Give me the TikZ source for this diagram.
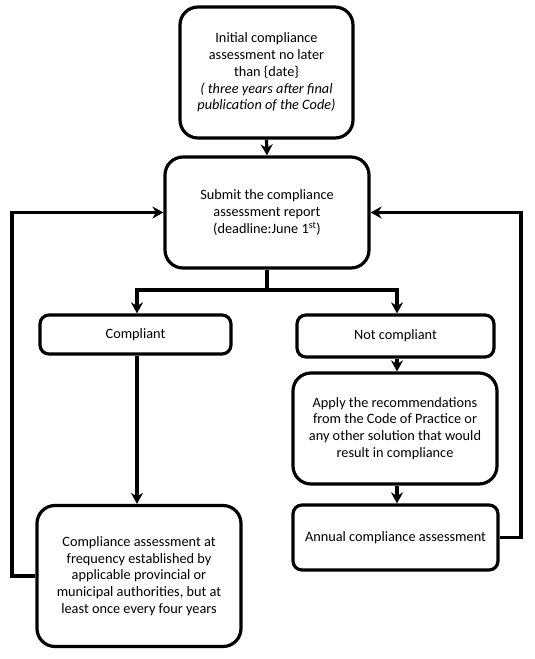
\documentclass[tikz,border=0pt]{standalone}
\usepackage{fontspec}
\setmainfont{Carlito}
\usetikzlibrary{arrows.meta}
\begin{document}
\begin{tikzpicture}[x=1pt,y=-1pt,
  box/.style={draw,line width=3.2pt,rounded corners=18pt,align=center,inner sep=2pt,
    font=\fontsize{14.3}{16.8}\selectfont},
  smallbox/.style={box,rounded corners=9pt},
  conn/.style={line width=3.2pt,-{Stealth[length=11pt,width=12pt]}},
  plain/.style={line width=3.2pt}]
\useasboundingbox (0,0) rectangle (535,659);
\node[box,minimum width=173pt,minimum height=131pt] (init) at (266.5,72.5)
  {Initial compliance\\assessment no later\\than \{date\}\\\textit{( three years after final}\\\textit{publication of the Code)}};
\node[box,minimum width=204pt,minimum height=111pt] (submit) at (267,212.5)
  {Submit the compliance\\assessment report\\(deadline:June 1\textsuperscript{st})};
\node[smallbox,minimum width=191pt,minimum height=39pt] (comp) at (135.5,334.5) {Compliant};
\node[smallbox,minimum width=197pt,minimum height=42pt] (notcomp) at (395.5,336) {Not compliant};
\node[box,minimum width=204pt,minimum height=111pt] (apply) at (395,428.5)
  {Apply the recommendations\\from the Code of Practice or\\any other solution that would\\result in compliance};
\node[smallbox,minimum width=205pt,minimum height=65pt] (annual) at (395.5,537.5) {Annual compliance assessment};
\node[box,minimum width=204pt,minimum height=141pt] (freq) at (139,576)
  {Compliance assessment at\\frequency established by\\applicable provincial or\\municipal authorities, but at\\least once every four years};
\coordinate (split) at (267,290);
\coordinate (splitL) at (137,290);
\coordinate (splitR) at (397,290);
\coordinate (leftB) at (12,576);
\coordinate (leftT) at (12,212.5);
\coordinate (rightB) at (521,537.5);
\coordinate (rightT) at (521,212.5);
\draw[conn] (init.south) -- (submit.north);
\draw[plain] (submit.south) -- (split);
\draw[conn] (split) -- (splitL) -- (splitL |- comp.north);
\draw[conn] (split) -- (splitR) -- (splitR |- notcomp.north);
\draw[conn] (comp.south -| splitL) -- (splitL |- freq.north);
\draw[conn] (notcomp.south -| splitR) -- (splitR |- apply.north);
\draw[conn] (apply.south -| splitR) -- (splitR |- annual.north);
\draw[conn] (freq.west) -- (leftB) -- (leftT) -- (submit.west);
\draw[conn] (annual.east) -- (rightB) -- (rightT) -- (submit.east);
\end{tikzpicture}
\end{document}
